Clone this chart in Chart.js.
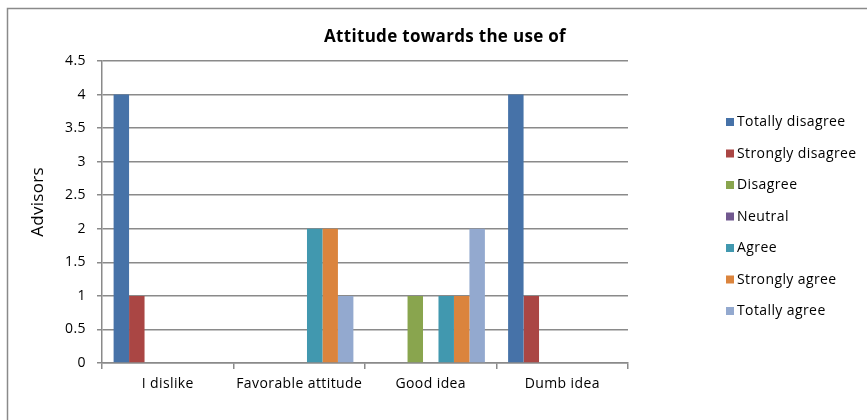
<!DOCTYPE html>
<html>
<head>
<meta charset="utf-8">
<script src="https://cdn.jsdelivr.net/npm/chart.js@4.4.1/dist/chart.umd.min.js"></script>
<style>
  html, body { margin: 0; padding: 0; background: #fff; }
  #wrap { position: relative; width: 867px; height: 420px; }
</style>
</head>
<body>
<div id="wrap"><canvas id="attitudeChart" width="867" height="420"></canvas></div>
<script>
const categories = ["I dislike", "Favorable attitude", "Good idea", "Dumb idea"];
const seriesNames = ["Totally disagree", "Strongly disagree", "Disagree", "Neutral", "Agree", "Strongly agree", "Totally agree"];

const totallyDisagree = [4, 0, 0, 4];
const stronglyDisagree = [1, 0, 0, 1];
const disagree = [0, 0, 1, 0];
const neutral = [0, 0, 0, 0];
const agree = [0, 2, 1, 0];
const stronglyAgree = [0, 2, 1, 0];
const totallyAgree = [0, 1, 2, 0];

const seriesColors = ["#4672a8", "#aa4644", "#89a54e", "#71588f", "#4198af", "#db843d", "#93a9cf"];
const yTicks = [0, 0.5, 1, 1.5, 2, 2.5, 3, 3.5, 4, 4.5];

const chartTitle = "Attitude towards the use of";
const yTitle = "Advisors";

const FONT = "'Open Sans', Calibri, sans-serif";

const seriesValues = [totallyDisagree, stronglyDisagree, disagree, neutral, agree, stronglyAgree, totallyAgree];

// frame lines along the top and left edge; loose letter spacing for all text
const framePlugin = {
  id: "frame",
  beforeDraw(chart) {
    const c = chart.ctx;
    c.letterSpacing = "0.4px";
    c.save();
    c.strokeStyle = "#8a8a8a";
    c.lineWidth = 1.5;
    c.beginPath();
    c.moveTo(7.5, 420);
    c.lineTo(7.5, 8.5);
    c.lineTo(867, 8.5);
    c.stroke();
    c.restore();
  },
};

// chart title, y-axis title and the legend column on the right
const annotations = {
  id: "annotations",
  afterDraw(chart) {
    const c = chart.ctx;
    const area = chart.chartArea;
    c.save();
    c.fillStyle = "#000";
    c.textBaseline = "middle";

    c.font = "bold 17px " + FONT;
    c.letterSpacing = "0.3px";
    c.textAlign = "center";
    c.fillText(chartTitle, 445, 37);

    c.save();
    c.translate(38, 202);
    c.rotate(-Math.PI / 2);
    c.font = "17px " + FONT;
    c.fillText(yTitle, 0, 0);
    c.restore();

    const x = area.right + 98;
    const y0 = 122;
    const step = 31.5;
    c.font = "14px " + FONT;
    c.letterSpacing = "0.4px";
    c.textAlign = "left";
    chart.data.datasets.forEach((ds, i) => {
      const y = y0 + i * step;
      c.fillStyle = ds.backgroundColor;
      c.fillRect(x, y - 4, 8, 8);
      c.fillStyle = "#000";
      c.fillText(ds.label, x + 11, y + 0.5);
    });
    c.restore();
  },
};

const ctx = document.getElementById("attitudeChart").getContext("2d");

new Chart(ctx, {
  type: "bar",
  data: {
    labels: categories,
    datasets: seriesNames.map((name, i) => ({
      label: name,
      data: seriesValues[i],
      backgroundColor: seriesColors[i],
      borderWidth: 0,
    })),
  },
  options: {
    responsive: false,
    animation: false,
    layout: { padding: { left: 0, top: 61, right: 239, bottom: 0 } },
    datasets: {
      bar: { categoryPercentage: 7 / 8.5, barPercentage: 1 },
    },
    scales: {
      x: {
        afterFit(scale) { scale.height = 57; },
        grid: {
          offset: true,
          drawOnChartArea: false,
          drawTicks: true,
          tickLength: 6,
          color: "#8a8a8a",
          lineWidth: 1.5,
        },
        border: { display: true, color: "#8a8a8a", width: 1.5 },
        ticks: {
          color: "#000",
          padding: 7,
          font: { family: FONT, size: 14 },
        },
      },
      y: {
        min: 0,
        max: 4.5,
        afterFit(scale) { scale.width = 102; },
        afterBuildTicks(scale) { scale.ticks = yTicks.map(v => ({ value: v })); },
        grid: {
          color: "#8a8a8a",
          lineWidth: 1.5,
          tickLength: 5,
        },
        border: { display: true, color: "#8a8a8a", width: 1.5 },
        ticks: {
          color: "#000",
          padding: 11,
          font: { family: FONT, size: 14 },
          callback: v => String(v),
        },
      },
    },
    plugins: {
      legend: { display: false },
      tooltip: { enabled: false },
    },
  },
  plugins: [framePlugin, annotations],
});
</script>
</body>
</html>
